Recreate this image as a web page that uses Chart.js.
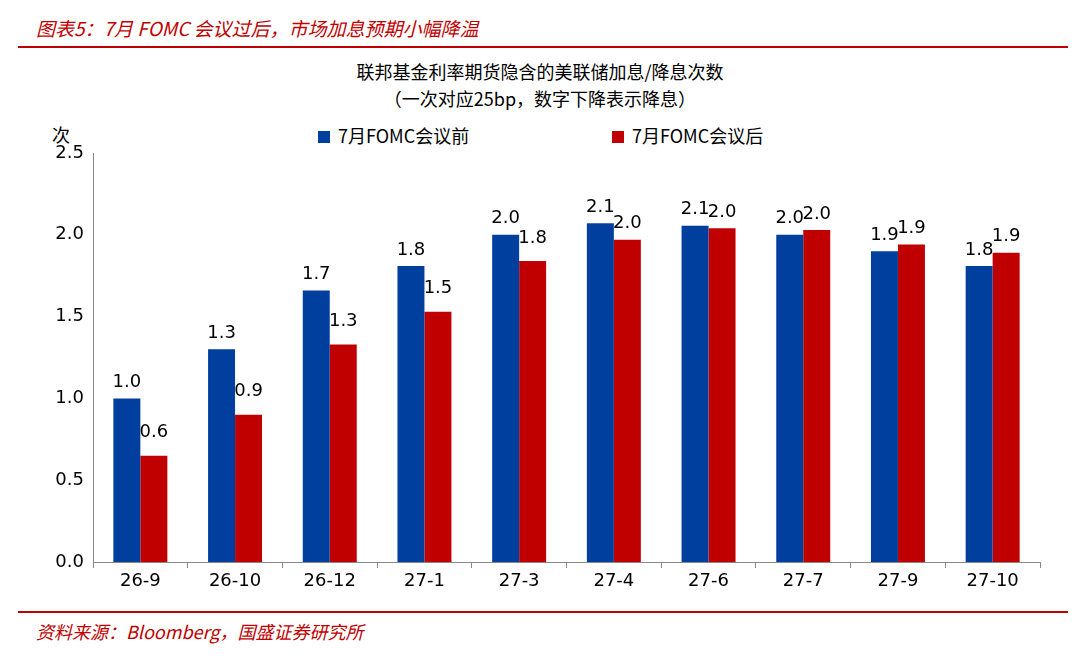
<!DOCTYPE html>
<html><head><meta charset="utf-8">
<script src="https://cdn.jsdelivr.net/npm/chart.js@4/dist/chart.umd.min.js"></script>
<style>
body{margin:0;width:1080px;height:660px;background:#fff;position:relative;overflow:hidden;font-family:"DejaVu Sans","Noto Sans CJK SC",sans-serif}
.t{position:absolute;white-space:nowrap}
#wrap{position:absolute;left:0;top:0;width:1080px;height:660px}
</style></head><body>
<div class="t" style="left:36px;top:14px;color:#c00000;font-style:italic;font-size:19px;font-family:'Noto Sans CJK SC'">图表5：7月 FOMC 会议过后，市场加息预期小幅降温</div>
<div style="position:absolute;left:18px;top:46px;width:1050px;height:2px;background:#c00000"></div>
<div class="t" style="left:0;width:1080px;text-align:center;top:58px;font-size:18px;font-family:'Noto Sans CJK SC';line-height:27px">联邦基金利率期货隐含的美联储加息/降息次数<br>（一次对应25bp，数字下降表示降息）</div>
<div class="t" style="left:52px;top:121px;font-size:18px;font-family:'Noto Sans CJK SC'">次</div>
<div class="t" style="left:318px;top:122px;font-size:18px;font-family:'Noto Sans CJK SC'"><span style="display:inline-block;width:12px;height:12px;background:#003f9e;margin-right:8px"></span>7月FOMC会议前</div>
<div class="t" style="left:612px;top:122px;font-size:18px;font-family:'Noto Sans CJK SC'"><span style="display:inline-block;width:12px;height:12px;background:#c00000;margin-right:8px"></span>7月FOMC会议后</div>
<div style="position:absolute;left:18px;top:611px;width:1050px;height:2px;background:#c00000"></div>
<div class="t" style="left:36px;top:618px;color:#c00000;font-style:italic;font-size:18px;font-family:'Noto Sans CJK SC'">资料来源：Bloomberg，国盛证券研究所</div>
<div id="wrap"><canvas id="c"></canvas></div>
<script>
var categories = ['26-9','26-10','26-12','27-1','27-3','27-4','27-6','27-7','27-9','27-10'];
var before = [1.0, 1.30, 1.66, 1.81, 2.00, 2.07, 2.055, 2.00, 1.90, 1.81];
var after = [0.65, 0.90, 1.33, 1.53, 1.84, 1.97, 2.04, 2.03, 1.94, 1.89];
var labelsBefore = ['1.0','1.3','1.7','1.8','2.0','2.1','2.1','2.0','1.9','1.8'];
var labelsAfter = ['0.6','0.9','1.3','1.5','1.8','2.0','2.0','2.0','1.9','1.9'];

var valueLabels = {
  id: 'valueLabels',
  afterDatasetsDraw(chart) {
    var ctx = chart.ctx;
    ctx.save();
    ctx.font = '18px "DejaVu Sans"';
    ctx.fillStyle = '#000';
    ctx.textAlign = 'center';
    ctx.textBaseline = 'bottom';
    [labelsBefore, labelsAfter].forEach(function (lbls, di) {
      chart.getDatasetMeta(di).data.forEach(function (bar, i) {
        ctx.fillText(lbls[i], bar.x, bar.y - (di == 1 && after[i] < before[i] - 0.1 ? 14 : 7));
      });
    });
    ctx.restore();
  }
};

new Chart(document.getElementById('c'), {
  type: 'bar',
  data: {
    labels: categories,
    datasets: [
      { label: '7月FOMC会议前', data: before, backgroundColor: '#003f9e', categoryPercentage: 0.57, barPercentage: 1.0 },
      { label: '7月FOMC会议后', data: after, backgroundColor: '#c00000', categoryPercentage: 0.57, barPercentage: 1.0 }
    ]
  },
  options: {
    responsive: true, maintainAspectRatio: false, animation: false,
    layout: { padding: { top: 153, right: 40, bottom: 58, left: 0 } },
    plugins: { legend: { display: false }, tooltip: { enabled: false } },
    scales: {
      y: {
        min: 0, max: 2.5,
        afterFit: function (s) { s.width = 93; },
        ticks: { stepSize: 0.5, color: '#000', font: { size: 18, family: 'DejaVu Sans' }, callback: function (v) { return v.toFixed(1); } },
        grid: { display: false, drawTicks: true, tickLength: 6 },
        border: { color: '#888', width: 1 }
      },
      x: {
        afterFit: function (s) { s.height = 40; },
        ticks: { color: '#000', font: { size: 18, family: 'DejaVu Sans' } },
        grid: { display: true, drawOnChartArea: false, offset: true, tickLength: 6, color: '#888' },
        border: { color: '#888', width: 1 }
      }
    }
  },
  plugins: [valueLabels]
});
</script>
</body></html>
